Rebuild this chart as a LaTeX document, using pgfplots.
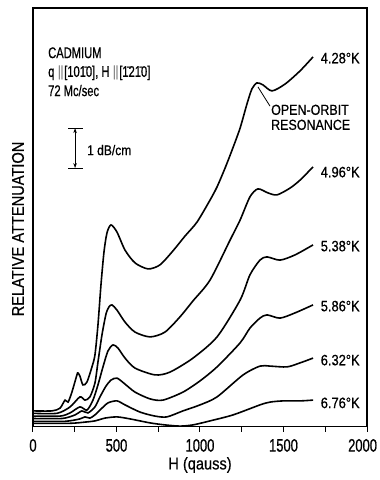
\documentclass[border=0pt]{standalone}
\usepackage{fontspec}
\setmainfont{Liberation Sans}[FakeStretch=0.86, FakeBold=0.6]
\newfontfamily\condfont{Liberation Sans}[FakeStretch=0.72, FakeBold=0.6]
\newfontfamily\tickfont{Liberation Sans}[FakeStretch=0.72, FakeBold=0.8]
\usepackage{pgfplots}
\pgfplotsset{compat=1.18}
\usetikzlibrary{arrows.meta}
\pgfplotsset{curve/.style={black, line width=1.6pt, smooth, tension=0.45, mark=none}}
\begin{document}
\begin{tikzpicture}
\begin{axis}[
  scale only axis, width=334pt, height=418.5pt,
  xmin=0, xmax=2000, ymin=0, ymax=10.4625,
  axis line style={line width=1.1pt},
  xtick={0,500,1000,1500,2000}, minor xtick={250,750,1250,1750},
  xticklabels={0,500,1000,1500,{\makebox[0pt][r]{2000\kern-10pt}}},
  ytick=\empty,
  xtick pos=bottom, tick align=outside,
  major tick length=5pt, minor tick length=5pt,
  every tick/.style={line width=1pt, black},
  every minor tick/.style={line width=1pt, black},
  xticklabel style={font=\tickfont\fontsize{18}{18}\selectfont, yshift=-4pt},
  xlabel={H (qauss)},
  xlabel style={font=\fontsize{17}{17}\selectfont, at={(axis description cs:0.5,-0.092)}, anchor=center},
  ylabel={RELATIVE ATTENUATION},
  ylabel style={font=\fontsize{17}{17}\selectfont, at={(axis description cs:-0.045,0.472)}, anchor=center},
  clip=false,
]
% 4.28 K
\addplot[curve] coordinates {(0,0.39) (114,0.39) (162,0.46) (192,0.66) (210,0.61) (233,0.86) (263,1.29) (269,1.34) (281,1.26) (299,1.04) (323,1.11) (353,1.49) (371,1.79) (389,2.54) (407,3.54) (425,4.36) (443,4.84) (467,5.04) (503,4.86) (551,4.41) (611,4.09) (689,3.94) (760,4.04) (838,4.39) (910,4.76) (982,5.11) (1060,5.66) (1102,5.99) (1150,6.46) (1192,6.91) (1240,7.46) (1281,8.06) (1311,8.44) (1341,8.59) (1377,8.54) (1431,8.39) (1509,8.56) (1599,8.89) (1677,9.24)};
% 4.96 K
\addplot[curve] coordinates {(0,0.33) (144,0.33) (222,0.49) (281,0.74) (311,0.66) (341,0.74) (371,1.09) (389,1.61) (413,2.29) (437,2.81) (455,2.99) (473,3.04) (503,2.91) (551,2.61) (611,2.36) (701,2.24) (790,2.36) (880,2.74) (958,3.14) (1060,3.66) (1180,4.66) (1240,5.16) (1299,5.74) (1347,5.94) (1407,5.84) (1461,5.79) (1539,5.96) (1599,6.16) (1677,6.49)};
% 5.38 K
\addplot[curve] coordinates {(0,0.26) (162,0.26) (222,0.34) (281,0.49) (323,0.41) (359,0.66) (389,1.04) (419,1.49) (449,1.89) (479,2.04) (509,1.96) (551,1.71) (611,1.46) (731,1.29) (820,1.36) (958,1.71) (1102,2.24) (1240,3.16) (1299,3.79) (1359,4.16) (1401,4.24) (1479,4.16) (1569,4.29) (1677,4.54)};
% 5.86 K
\addplot[curve] coordinates {(0,0.20) (174,0.20) (252,0.29) (293,0.39) (329,0.34) (371,0.49) (401,0.74) (437,1.01) (467,1.16) (503,1.21) (551,1.06) (611,0.86) (701,0.69) (778,0.66) (898,0.86) (1000,1.14) (1102,1.49) (1240,2.09) (1299,2.46) (1359,2.71) (1401,2.79) (1479,2.71) (1569,2.84) (1677,3.04)};
% 6.32 K
\addplot[curve] coordinates {(0,0.13) (192,0.13) (281,0.19) (311,0.24) (341,0.21) (371,0.29) (401,0.41) (449,0.59) (503,0.64) (551,0.54) (641,0.36) (731,0.26) (802,0.24) (898,0.39) (1000,0.54) (1102,0.74) (1258,1.29) (1359,1.51) (1419,1.51) (1521,1.49) (1599,1.59) (1677,1.71)};
% 6.76 K
\addplot[curve] coordinates {(0,0.08) (222,0.08) (311,0.11) (371,0.14) (431,0.21) (503,0.24) (581,0.19) (701,0.09) (790,0.04) (880,0.01) (958,0.04) (1060,0.14) (1198,0.29) (1359,0.54) (1419,0.61) (1497,0.64) (1599,0.64) (1677,0.66)};

\begin{scope}[every node/.style={font=\fontsize{15}{15}\selectfont, inner sep=0pt, anchor=west}]
\node at (axis cs:1722,9.21) {4.28°K};
\node at (axis cs:1722,6.36) {4.96°K};
\node at (axis cs:1722,4.51) {5.38°K};
\node at (axis cs:1722,3.01) {5.86°K};
\node at (axis cs:1722,1.66) {6.32°K};
\node at (axis cs:1722,0.59) {6.76°K};
\end{scope}

\node[anchor=base west, inner sep=0pt, font=\condfont\fontsize{15.5}{15.5}\selectfont] at (axis cs:90,9.21) {CADMIUM};
\node[anchor=base west, inner sep=0pt, font=\condfont\fontsize{15.5}{15.5}\selectfont] at (axis cs:90,8.74) {q\,\ensuremath{\parallel}[10\={1}0], H\,\ensuremath{\parallel}[\={1}2\={1}0]};
\node[anchor=base west, inner sep=0pt, font=\condfont\fontsize{15.5}{15.5}\selectfont] at (axis cs:90,8.26) {72 Mc/sec};

\draw[line width=0.9pt] (axis cs:210,7.46) -- (axis cs:300,7.46);
\draw[line width=0.9pt] (axis cs:210,6.46) -- (axis cs:300,6.46);
\draw[line width=0.9pt, {Stealth[length=5pt,width=3.5pt]}-{Stealth[length=5pt,width=3.5pt]}] (axis cs:252,7.46) -- (axis cs:252,6.46);
\node[anchor=west, inner sep=0pt, font=\fontsize{14}{14}\selectfont] at (axis cs:323,6.91) {1 dB/cm};

\draw[line width=0.8pt] (axis cs:1347,8.49) -- (axis cs:1419,8.01);
\node[anchor=north west, align=left, inner sep=0pt, font=\fontsize{14.5}{15}\selectfont] at (axis cs:1425,8.05) {OPEN-ORBIT\\RESONANCE};
\end{axis}
\pgfresetboundingbox
\path ([shift={(-33pt,-53.5pt)}]current axis.south west) rectangle ([shift={(13pt,8pt)}]current axis.north east);
\end{tikzpicture}
\end{document}
